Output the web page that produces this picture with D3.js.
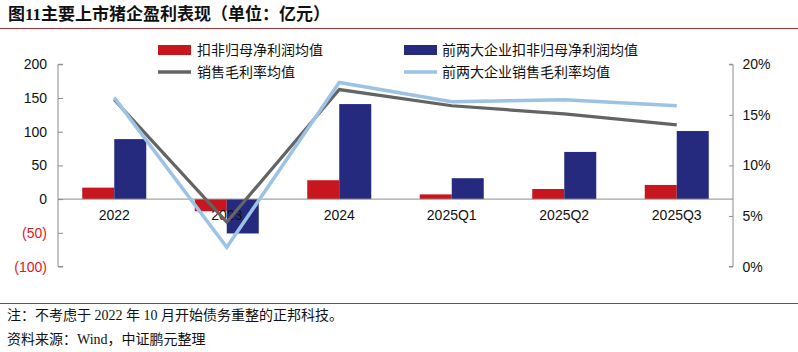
<!DOCTYPE html>
<html><head><meta charset="utf-8">
<script src="https://cdn.jsdelivr.net/npm/d3@7/dist/d3.min.js"></script>
<style>
body{margin:0;background:#fff;}
svg text{font-family:"Liberation Sans",Arial,sans-serif;}
.cjk{font-family:"Liberation Serif","Noto Sans CJK SC",serif;}
</style></head>
<body><svg id="c" width="798" height="352"></svg>
<script>
const categories = ["2022","2023","2024","2025Q1","2025Q2","2025Q3"];
const profitAvg = [17, -18, 28, 7, 15, 21];
const top2ProfitAvg = [89, -51, 141, 31, 70, 101];
const grossMarginAvg = [0.165, 0.044, 0.175, 0.159, 0.151, 0.140];
const top2GrossMarginAvg = [0.167, 0.019, 0.182, 0.163, 0.165, 0.159];
const leftTicks = [-100, -50, 0, 50, 100, 150, 200];
const rightTicks = [0, 0.05, 0.10, 0.15, 0.20];
const seriesNames = ["扣非归母净利润均值","前两大企业扣非归母净利润均值","销售毛利率均值","前两大企业销售毛利率均值"];

const svg = d3.select("#c");
const RED="#c8161e", NAVY="#252a7e", GRAY="#646464", LBLUE="#9cc2e5", AX="#8c8c8c";
const x0=58, x1=733, yTop=64.3, yBot=266.5;

const x = d3.scaleBand().domain(categories).range([x0,x1]);
const xs = d3.scaleBand().domain(["a","b"]).range([0,64]);
const yL = d3.scaleLinear().domain([-100,200]).range([yBot,yTop]);
const yR = d3.scaleLinear().domain([0,0.2]).range([yBot,yTop]);

// title
svg.append("text").attr("class","cjk").attr("x",8).attr("y",19.5).attr("font-size",17).attr("font-weight","bold").attr("fill","#111").text("图11主要上市猪企盈利表现（单位：亿元）");
svg.append("line").attr("x1",0).attr("x2",798).attr("y1",28.5).attr("y2",28.5).attr("stroke","#a3393c").attr("stroke-width",1.2);
svg.append("line").attr("x1",0).attr("x2",798).attr("y1",303.5).attr("y2",303.5).attr("stroke","#a3393c").attr("stroke-width",1.2);

// axes
const gL = svg.append("g").attr("transform",`translate(${x0},0)`)
  .call(d3.axisRight(yL).tickValues(leftTicks).tickSize(5).tickFormat(()=>""));
gL.selectAll("path,line").attr("stroke",AX);
gL.select(".domain").attr("d",`M5,${yBot}H0V${yTop}H5`);
svg.append("g").selectAll("text").data(leftTicks).join("text")
  .attr("x",47).attr("y",d=>yL(d)+5).attr("text-anchor","end").attr("font-size",14)
  .attr("fill",d=>d<0?"#e0161e":"#111").text(d=>d<0?`(${-d})`:d);

const gR = svg.append("g").attr("transform",`translate(${x1},0)`)
  .call(d3.axisLeft(yR).tickValues(rightTicks).tickSize(4).tickFormat(()=>""));
gR.selectAll("path,line").attr("stroke",AX);
gR.select(".domain").attr("d",`M-4,${yBot}H0V${yTop}H-4`);
svg.append("g").selectAll("text").data(rightTicks).join("text")
  .attr("x",742.5).attr("y",d=>yR(d)+5).attr("font-size",14).attr("fill","#111").text(d=>d3.format(".0%")(d));

// bars
const bars = svg.append("g");
categories.forEach((c,i)=>{
  const cx = x(c)+x.bandwidth()/2-32;
  [[profitAvg[i],RED,"a"],[top2ProfitAvg[i],NAVY,"b"]].forEach(([v,col,k])=>{
    bars.append("rect").attr("x",cx+xs(k)).attr("width",xs.bandwidth())
      .attr("y",yL(Math.max(0,v))).attr("height",Math.abs(yL(v)-yL(0))).attr("fill",col);
  });
});
// baseline
svg.append("line").attr("x1",x0).attr("x2",x1).attr("y1",yL(0)).attr("y2",yL(0)).attr("stroke",AX).attr("stroke-width",1);

// x labels
svg.append("g").selectAll("text").data(categories).join("text")
  .attr("x",d=>x(d)+x.bandwidth()/2).attr("y",220).attr("text-anchor","middle").attr("font-size",14).attr("fill","#111").text(d=>d);

// lines
const line = d3.line().x((d,i)=>x(categories[i])+x.bandwidth()/2).y(d=>yR(d));
svg.append("path").datum(grossMarginAvg).attr("d",line).attr("fill","none").attr("stroke",GRAY).attr("stroke-width",3.2);
svg.append("path").datum(top2GrossMarginAvg).attr("d",line).attr("fill","none").attr("stroke",LBLUE).attr("stroke-width",3.5);

// legend
const lg = svg.append("g");
lg.append("rect").attr("x",158).attr("y",45).attr("width",33).attr("height",10).attr("fill",RED);
lg.append("rect").attr("x",404).attr("y",45).attr("width",33).attr("height",10).attr("fill",NAVY);
lg.append("line").attr("x1",158).attr("x2",191).attr("y1",72).attr("y2",72).attr("stroke",GRAY).attr("stroke-width",3.5);
lg.append("line").attr("x1",404).attr("x2",437).attr("y1",72).attr("y2",72).attr("stroke",LBLUE).attr("stroke-width",3.5);
[[197,55,0],[442,55,1],[197,77,2],[442,77,3]].forEach(([lx,ly,k])=>{
  lg.append("text").attr("class","cjk").attr("x",lx).attr("y",ly).attr("font-size",14).attr("fill","#111").text(seriesNames[k]);
});

// footnotes
svg.append("text").attr("class","cjk").attr("x",7).attr("y",320).attr("font-size",14).attr("fill","#111").text("注：不考虑于 2022 年 10 月开始债务重整的正邦科技。");
svg.append("text").attr("class","cjk").attr("x",7).attr("y",344).attr("font-size",14).attr("fill","#111").text("资料来源：Wind，中证鹏元整理");
</script></body></html>
